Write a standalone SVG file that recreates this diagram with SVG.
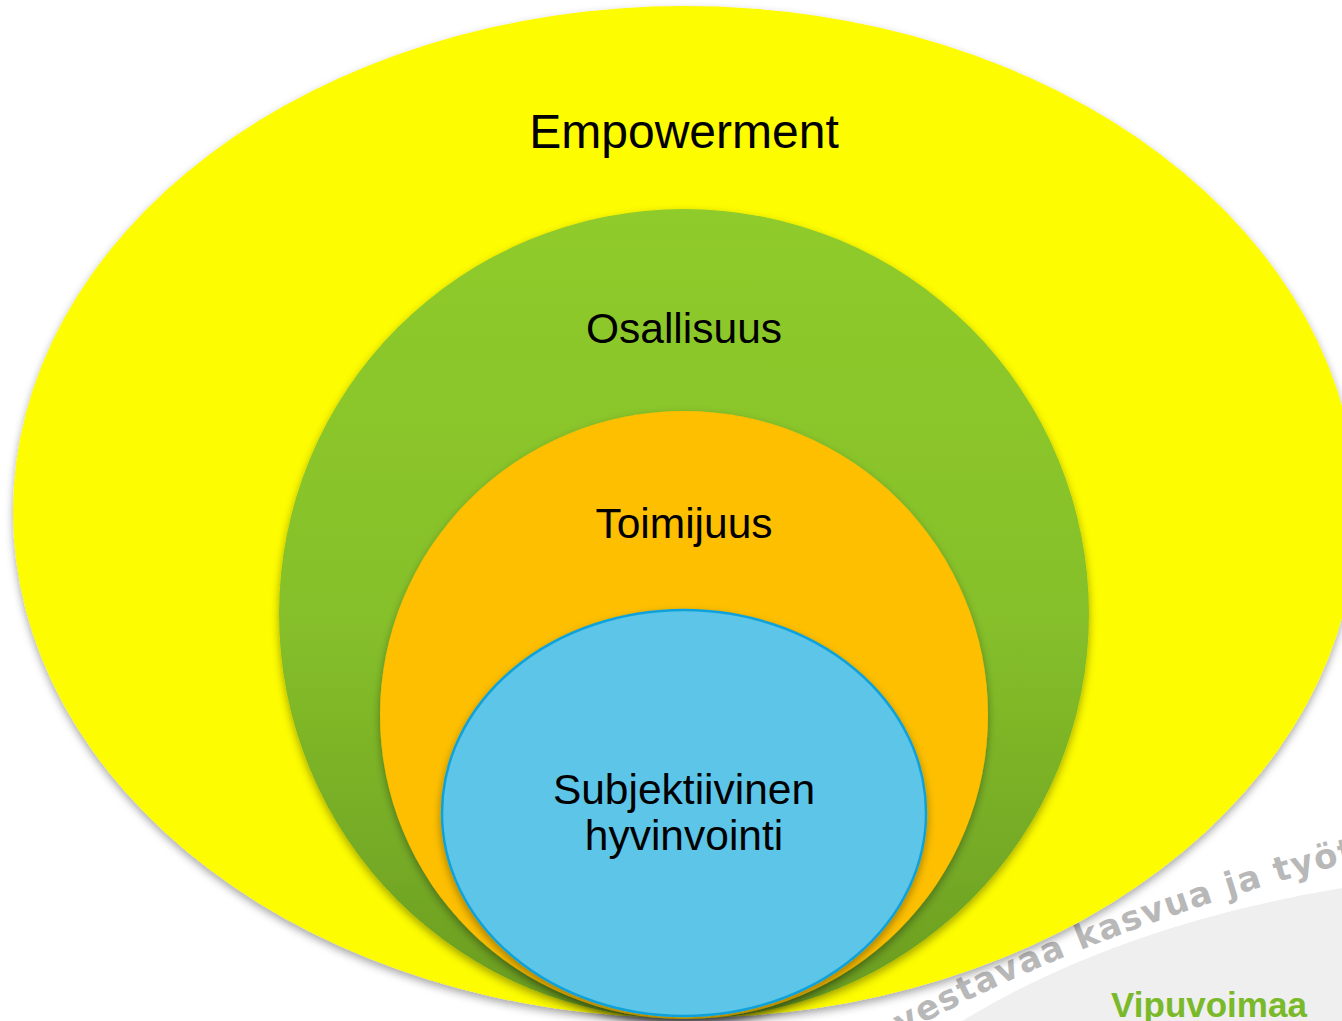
<svg xmlns="http://www.w3.org/2000/svg" width="1342" height="1021" viewBox="0 0 1342 1021">
<defs>
<style>
.lbl{font-family:"Liberation Sans",Arial,sans-serif;fill:#000;text-anchor:middle}
.wm{font-family:"DejaVu Sans","Liberation Sans",sans-serif;font-weight:bold;fill:#b8b8b8}
</style>
<filter id="sh" x="-10%" y="-10%" width="120%" height="125%">
<feDropShadow dx="0" dy="4" stdDeviation="4" flood-color="#000" flood-opacity="0.35"/>
</filter>
<linearGradient id="gGreen" x1="0" y1="0" x2="0" y2="1">
<stop offset="0" stop-color="#8fcb2c"/>
<stop offset="0.5" stop-color="#86c02a"/>
<stop offset="1" stop-color="#6a9c22"/>
</linearGradient>
<path id="wmPath" d="M 865 1056 Q 1080 928 1390 852"/>
</defs>
<rect width="1342" height="1021" fill="#fff"/>
<g id="watermark">
<path d="M 962 1021 Q 1120 925 1342 888 L 1342 1021 Z" fill="#efefef"/>
<text class="wm" font-size="34" letter-spacing="1.5"><textPath href="#wmPath" startOffset="42">vestavaa kasvua ja työtä</textPath></text>
<text x="1209" y="1017" text-anchor="middle" font-family="'Liberation Sans',Arial,sans-serif" font-weight="bold" font-size="35" fill="#7ab929">Vipuvoimaa</text>
</g>
<g id="empowerment">
<ellipse cx="685" cy="512" rx="672" ry="506" fill="#fdfc00" filter="url(#sh)"/>
<text class="lbl" x="684" y="148" font-size="48">Empowerment</text>
</g>
<g id="osallisuus">
<ellipse cx="684" cy="614" rx="405" ry="405" fill="url(#gGreen)" filter="url(#sh)"/>
<text class="lbl" x="684" y="343" font-size="42.5">Osallisuus</text>
</g>
<g id="toimijuus">
<ellipse cx="684" cy="715" rx="304" ry="304" fill="#fdbf00" filter="url(#sh)"/>
<text class="lbl" x="684" y="538" font-size="42.5">Toimijuus</text>
</g>
<g id="hyvinvointi">
<ellipse cx="684" cy="813" rx="242" ry="203" fill="#5bc5e8" stroke="#10a2dc" stroke-width="2.5" filter="url(#sh)"/>
<text class="lbl" x="684" y="804" font-size="42.5">Subjektiivinen</text>
<text class="lbl" x="684" y="850" font-size="42.5">hyvinvointi</text>
</g>
<g id="connectors"></g>
</svg>
